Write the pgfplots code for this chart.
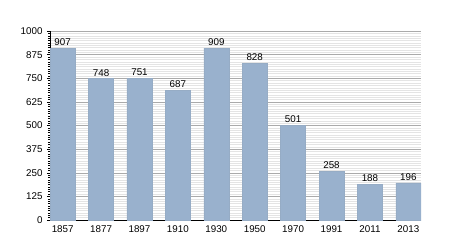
\documentclass[border=0pt]{standalone}
\usepackage{pgfplots}
\pgfplotsset{compat=1.18}
\usepackage{fontspec}
\setmainfont{Liberation Sans}
\definecolor{barc}{RGB}{153,177,205}
\definecolor{majg}{RGB}{170,170,170}
\definecolor{ming}{RGB}{228,228,228}
\begin{document}
\begin{tikzpicture}[x=1pt,y=1pt]
\useasboundingbox (0,0) rectangle (450,250);
\begin{axis}[
  at={(50pt,30pt)}, anchor=south west,
  scale only axis, width=371pt, height=189pt,
  font=\fontsize{9.8}{11}\selectfont,
  /pgf/number format/assume math mode=true,
  /pgf/number format/1000 sep={},
  axis lines*=left,
  axis line style={black, line width=0.8pt},
  xmin=-0.33, xmax=9.33,
  ymin=0, ymax=1000,
  ytick={0,125,...,1000},
  minor y tick num=9,
  ymajorgrids, yminorgrids,
  major grid style={majg, line width=0.5pt},
  minor grid style={ming, line width=0.4pt},
  xtick=data,
  xticklabels={1857,1877,1897,1910,1930,1950,1970,1991,2011,2013},
  xtick style={draw=none},
  ytick style={black, line width=0.4pt},
  tick align=outside,
  major tick length=3pt, minor tick length=2pt,
  xticklabel style={yshift=1pt},
  yticklabel style={xshift=-1pt},
  ybar, bar width=25pt,
  nodes near coords,
  every node near coord/.append style={font=\fontsize{9.8}{11}\selectfont, yshift=-1pt},
]
\addplot[fill=barc, draw=barc!90!gray, line width=0.3pt] coordinates {
 (0,907) (1,748) (2,751) (3,687) (4,909) (5,828) (6,501) (7,258) (8,188) (9,196)};
\end{axis}
\end{tikzpicture}
\end{document}
